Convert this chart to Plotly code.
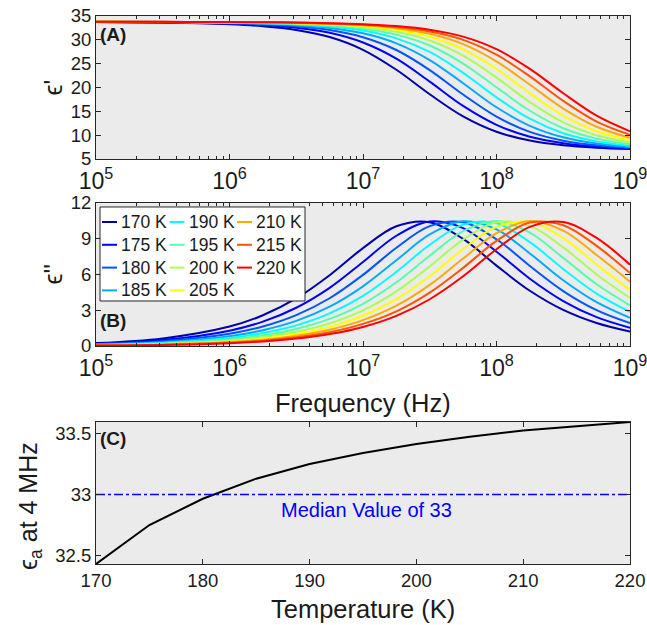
import plotly.graph_objects as go

# ---------------- data ----------------
FREQ_HZ = [1.0e5, 3.162e5, 1.0e6, 1.778e6, 3.162e6, 5.623e6, 1.0e7, 1.778e7,
           3.162e7, 5.623e7, 1.0e8, 1.778e8, 3.162e8, 5.623e8, 1.0e9]
TEMPS = [170, 175, 180, 185, 190, 195, 200, 205, 210, 215, 220]
COLORS = ["rgb(0,0,170)", "rgb(0,0,255)", "rgb(0,85,255)", "rgb(0,170,255)",
          "rgb(0,255,255)", "rgb(85,255,170)", "rgb(170,255,85)", "rgb(255,255,0)",
          "rgb(255,170,0)", "rgb(255,85,0)", "rgb(255,0,0)"]

# real part eps' (panel A)
EPS1_170 = [33.735, 33.621, 33.273, 32.858, 32.076, 30.581, 27.905, 23.714, 18.585, 13.940, 10.716, 8.859, 7.867, 7.348, 7.069]
EPS1_175 = [33.750, 33.662, 33.402, 33.105, 32.533, 31.468, 29.436, 26.041, 21.228, 16.139, 12.168, 9.648, 8.294, 7.567, 7.191]
EPS1_180 = [33.760, 33.692, 33.494, 33.270, 32.851, 32.064, 30.556, 27.866, 23.655, 18.523, 13.893, 10.684, 8.844, 7.858, 7.343]
EPS1_185 = [33.768, 33.715, 33.561, 33.388, 33.075, 32.485, 31.363, 29.268, 25.755, 20.895, 15.853, 11.960, 9.543, 8.231, 7.537]
EPS1_190 = [33.774, 33.731, 33.609, 33.474, 33.234, 32.783, 31.936, 30.313, 27.460, 23.082, 17.932, 13.443, 10.405, 8.696, 7.778]
EPS1_195 = [33.779, 33.744, 33.645, 33.538, 33.350, 33.001, 32.352, 31.094, 28.811, 25.022, 20.042, 15.120, 11.454, 9.274, 8.079]
EPS1_200 = [33.783, 33.754, 33.673, 33.587, 33.437, 33.162, 32.655, 31.676, 29.858, 26.669, 22.060, 16.924, 12.686, 9.978, 8.452]
EPS1_205 = [33.785, 33.761, 33.695, 33.624, 33.502, 33.283, 32.879, 32.111, 30.656, 28.022, 23.892, 18.772, 14.079, 10.811, 8.905]
EPS1_210 = [33.788, 33.767, 33.712, 33.653, 33.552, 33.375, 33.048, 32.439, 31.265, 29.110, 25.487, 20.583, 15.585, 11.766, 9.445]
EPS1_215 = [33.790, 33.772, 33.726, 33.677, 33.593, 33.448, 33.181, 32.694, 31.743, 29.995, 26.871, 22.331, 17.181, 12.854, 10.087]
EPS1_220 = [33.791, 33.776, 33.737, 33.695, 33.625, 33.502, 33.284, 32.881, 32.115, 30.665, 28.034, 23.912, 18.793, 14.095, 10.811]

# imaginary part eps'' (panel B)
EPS2_170 = [0.243, 0.634, 1.630, 2.578, 3.989, 5.937, 8.213, 10.044, 10.386, 8.981, 6.743, 4.633, 3.025, 1.926, 1.208]
EPS2_175 = [0.191, 0.498, 1.287, 2.041, 3.209, 4.878, 7.048, 9.251, 10.438, 9.890, 7.912, 5.646, 3.775, 2.423, 1.535]
EPS2_180 = [0.151, 0.396, 1.027, 1.638, 2.593, 4.008, 5.964, 8.241, 10.057, 10.382, 8.955, 6.715, 4.610, 3.008, 1.916]
EPS2_185 = [0.121, 0.317, 0.827, 1.326, 2.106, 3.298, 5.008, 7.196, 9.360, 10.463, 9.781, 7.766, 5.516, 3.672, 2.358]
EPS2_190 = [0.098, 0.258, 0.674, 1.084, 1.728, 2.731, 4.206, 6.221, 8.496, 10.186, 10.302, 8.713, 6.452, 4.397, 2.856]
EPS2_195 = [0.081, 0.212, 0.554, 0.895, 1.429, 2.273, 3.536, 5.344, 7.574, 9.638, 10.495, 9.503, 7.391, 5.180, 3.415]
EPS2_200 = [0.067, 0.176, 0.460, 0.744, 1.191, 1.902, 2.986, 4.581, 6.678, 8.922, 10.375, 10.075, 8.277, 6.000, 4.034]
EPS2_205 = [0.056, 0.147, 0.386, 0.624, 1.003, 1.604, 2.535, 3.930, 5.857, 8.131, 10.003, 10.400, 9.056, 6.826, 4.699]
EPS2_210 = [0.047, 0.125, 0.327, 0.528, 0.851, 1.362, 2.167, 3.382, 5.131, 7.335, 9.462, 10.486, 9.679, 7.629, 5.393]
EPS2_215 = [0.041, 0.106, 0.279, 0.448, 0.726, 1.160, 1.858, 2.913, 4.486, 6.558, 8.814, 10.355, 10.133, 8.396, 6.115]
EPS2_220 = [0.035, 0.091, 0.239, 0.386, 0.623, 1.001, 1.601, 2.531, 3.924, 5.848, 8.122, 9.999, 10.402, 9.064, 6.826]

# panel C: eps_a at 4 MHz vs temperature
EPS_A_4MHZ = [32.43, 32.75, 32.965, 33.13, 33.25, 33.34, 33.415, 33.475, 33.525, 33.56, 33.595]
MEDIAN_VALUE = 33

EPS1 = [EPS1_170, EPS1_175, EPS1_180, EPS1_185, EPS1_190, EPS1_195,
        EPS1_200, EPS1_205, EPS1_210, EPS1_215, EPS1_220]
EPS2 = [EPS2_170, EPS2_175, EPS2_180, EPS2_185, EPS2_190, EPS2_195,
        EPS2_200, EPS2_205, EPS2_210, EPS2_215, EPS2_220]

# ---------------- style ----------------
FONT = "Liberation Sans, Arial, Helvetica, sans-serif"
AX = "#262626"
TXT = "#1a1a1a"
TICK_FS = 18.5
TITLE_FS = 25
BG = "#EBEBEB"

fig = go.Figure()

for i, t in enumerate(TEMPS):
    fig.add_trace(go.Scatter(x=FREQ_HZ, y=EPS1[i], mode="lines", xaxis="x", yaxis="y",
                             line=dict(color=COLORS[i], width=2, shape="spline"),
                             name=f"{t} K", showlegend=False))
for i, t in enumerate(TEMPS):
    fig.add_trace(go.Scatter(x=FREQ_HZ, y=EPS2[i], mode="lines", xaxis="x2", yaxis="y2",
                             line=dict(color=COLORS[i], width=2, shape="spline"),
                             name=f"{t} K", showlegend=False))

fig.add_trace(go.Scatter(x=TEMPS, y=EPS_A_4MHZ, mode="lines", xaxis="x3", yaxis="y3",
                         line=dict(color="black", width=2), showlegend=False))
fig.add_trace(go.Scatter(x=[TEMPS[0], TEMPS[-1]], y=[MEDIAN_VALUE, MEDIAN_VALUE],
                         mode="lines", xaxis="x3", yaxis="y3",
                         line=dict(color="rgb(0,0,255)", width=1.5, dash="dashdot"),
                         showlegend=False))

common = dict(showline=True, linecolor=AX, linewidth=1, mirror="ticks",
              ticks="inside", ticklen=5, tickcolor=AX, tickwidth=1,
              showgrid=False, zeroline=False, automargin=False,
              ticklabeloverflow="allow",
              tickfont=dict(family=FONT, size=TICK_FS, color=TXT))

logx = dict(type="log", range=[5, 9], dtick=1, exponentformat="power",
            minor=dict(ticks="inside", ticklen=3, tickcolor=AX, dtick="D1", showgrid=False),
            ticklabelstandoff=2, **common)

fig.update_layout(
    width=647, height=625,
    margin=dict(l=96, r=17, t=16, b=61, autoexpand=False),
    paper_bgcolor="white", plot_bgcolor=BG,
    font=dict(family=FONT, color=TXT),
    showlegend=False,
    xaxis=dict(domain=[0, 1], anchor="y", **logx),
    yaxis=dict(domain=[0.7391, 1], anchor="x", range=[5, 35], dtick=5, **common),
    xaxis2=dict(domain=[0, 1], anchor="y2", **logx),
    yaxis2=dict(domain=[0.3978, 0.6588], anchor="x2", range=[0, 12], dtick=3, **common),
    xaxis3=dict(domain=[0, 1], anchor="y3", range=[TEMPS[0], TEMPS[-1]], dtick=10, **common),
    yaxis3=dict(domain=[0, 0.2591], anchor="x3",
                range=[min(EPS_A_4MHZ), max(EPS_A_4MHZ)],
                tickvals=[32.5, 33, 33.5], ticktext=["32.5", "33", "33.5"], **common),
)

ann = []
# panel labels
for lab, xr, yr, yy in [("(A)", "x domain", "y domain", 0.874),
                        ("(B)", "x2 domain", "y2 domain", 0.18),
                        ("(C)", "x3 domain", "y3 domain", 0.887)]:
    ann.append(dict(text=f"<b>{lab}</b>", xref=xr, yref=yr, x=0.004, y=yy,
                    xanchor="left", yanchor="middle", showarrow=False,
                    font=dict(family=FONT, size=19, color=TXT)))
# axis titles
ann.append(dict(text="ϵ'", xref="paper", yref="y domain", x=-0.0805, y=0.5,
                textangle=-90, showarrow=False, xanchor="center", yanchor="middle",
                font=dict(family=FONT, size=TITLE_FS, color=TXT)))
ann.append(dict(text="ϵ''", xref="paper", yref="y2 domain", x=-0.0805, y=0.5,
                textangle=-90, showarrow=False, xanchor="center", yanchor="middle",
                font=dict(family=FONT, size=TITLE_FS, color=TXT)))
ann.append(dict(text="ϵ<sub>a</sub> at 4 MHz", xref="paper", yref="paper", x=-0.1236, y=0.1058,
                textangle=-90, showarrow=False, xanchor="center", yanchor="middle",
                font=dict(family=FONT, size=TITLE_FS, color=TXT)))
ann.append(dict(text="Frequency (Hz)", xref="paper", yref="paper", x=0.5, y=0.2938,
                showarrow=False, xanchor="center", yanchor="middle",
                font=dict(family=FONT, size=TITLE_FS + 0.5, color=TXT)))
ann.append(dict(text="Temperature (K)", xref="paper", yref="paper", x=0.5, y=-0.0821,
                showarrow=False, xanchor="center", yanchor="middle",
                font=dict(family=FONT, size=TITLE_FS + 0.5, color=TXT)))
# median label
ann.append(dict(text=f"Median Value of {MEDIAN_VALUE}", xref="x3", yref="y3", x=195.3, y=MEDIAN_VALUE,
                yanchor="top", xanchor="center", yshift=-2, showarrow=False,
                font=dict(family=FONT, size=20, color="rgb(0,0,255)")))

# custom legend (3 columns, column-major) inside panel B
shapes = []
PW, PH = 534.0, 143.0  # panel pixel size
box = dict(x0=4 / PW, x1=209 / PW, y0=45 / PH, y1=139 / PH)
shapes.append(dict(type="rect", xref="x2 domain", yref="y2 domain", **box,
                   line=dict(color=AX, width=1), fillcolor="white", layer="above"))
for i, t in enumerate(TEMPS):
    col, row = i // 4, i % 4
    lx0 = (6 + 67.5 * col) / PW
    lx1 = (21 + 67.5 * col) / PW
    ly = (124 - 22.8 * row) / PH
    shapes.append(dict(type="line", xref="x2 domain", yref="y2 domain",
                       x0=lx0, x1=lx1, y0=ly, y1=ly,
                       line=dict(color=COLORS[i], width=2), layer="above"))
    ann.append(dict(text=f"{t} K", xref="x2 domain", yref="y2 domain",
                    x=lx1 + 2 / PW, y=ly, xanchor="left", yanchor="middle",
                    showarrow=False, font=dict(family=FONT, size=17.5, color=TXT)))

fig.update_layout(annotations=ann, shapes=shapes)
fig.write_html("out.html")
